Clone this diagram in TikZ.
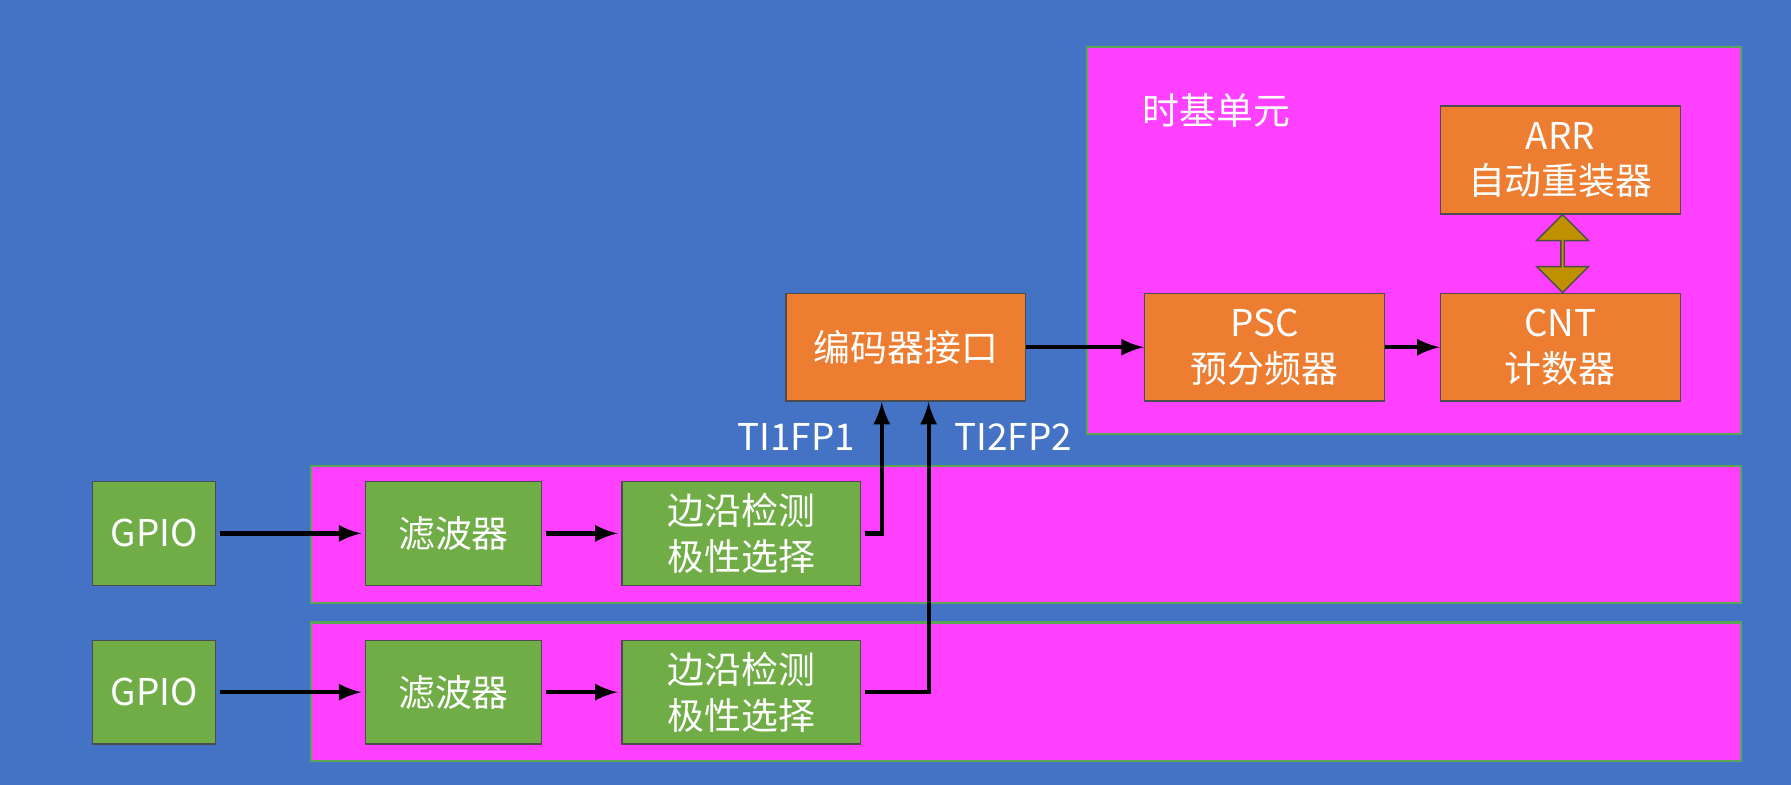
\documentclass[tikz,border=0pt]{standalone}
\usepackage{fontspec}
\setmainfont{Noto Sans CJK SC}
\usetikzlibrary{shapes.arrows}
\definecolor{bgblue}{HTML}{4472C4}
\definecolor{pink}{HTML}{FF40FF}
\definecolor{boxorange}{HTML}{ED7D31}
\definecolor{boxgreen}{HTML}{70AD47}
\definecolor{gold}{HTML}{BF9000}
\tikzset{
  panel/.style={draw=gray!70!green, fill=pink, line width=0.6pt},
  blk/.style={draw=gray!60!black, text=white, align=center, font=\fontsize{10.5}{13}\selectfont, line width=0.4pt},
  orange/.style={blk, fill=boxorange},
  green/.style={blk, fill=boxgreen},
  flow/.style={->, >=latex, line width=1.2pt, black}
}
\begin{document}
\begin{tikzpicture}[x=0.011422cm, y=-0.011422cm]
\fill[bgblue] (0,0) rectangle (1568,687);
\useasboundingbox (0,0) rectangle (1568,687);

\draw[panel] (952,41) rectangle (1524,380);
\draw[panel] (272,408) rectangle (1524,528);
\draw[panel] (272,545) rectangle (1524,666);
\node[text=white, font=\fontsize{10.5}{13}\selectfont] (tb) at (1065,97) {时基单元};

\node[orange, minimum width=2.4cm, minimum height=1.08cm] (arr) at (1366,140) {ARR\\自动重装器};
\node[orange, minimum width=2.4cm, minimum height=1.08cm] (cnt) at (1366,304) {CNT\\计数器};
\node[orange, minimum width=2.4cm, minimum height=1.08cm] (psc) at (1107,304) {PSC\\预分频器};
\node[orange, minimum width=2.4cm, minimum height=1.08cm] (enc) at (793,304) {编码器接口};

\node[green, minimum width=1.23cm, minimum height=1.04cm] (gpio1) at (135,467) {GPIO};
\node[green, minimum width=1.76cm, minimum height=1.04cm] (flt1) at (397,467) {滤波器};
\node[green, minimum width=2.39cm, minimum height=1.04cm] (edge1) at (649,467) {边沿检测\\极性选择};
\node[green, minimum width=1.23cm, minimum height=1.04cm] (gpio2) at (135,606) {GPIO};
\node[green, minimum width=1.76cm, minimum height=1.04cm] (flt2) at (397,606) {滤波器};
\node[green, minimum width=2.39cm, minimum height=1.04cm] (edge2) at (649,606) {边沿检测\\极性选择};

\node[text=white, font=\fontsize{10.5}{13}\selectfont] (ti1) at (697,383) {TI1FP1};
\node[text=white, font=\fontsize{10.5}{13}\selectfont] (ti2) at (887,383) {TI2FP2};

\draw[flow] ([xshift=1pt]gpio1.east) -- ([xshift=-1pt]flt1.west);
\draw[flow] ([xshift=1pt]flt1.east) -- ([xshift=-1pt]edge1.west);
\draw[flow] ([xshift=1pt]gpio2.east) -- ([xshift=-1pt]flt2.west);
\draw[flow] ([xshift=1pt]flt2.east) -- ([xshift=-1pt]edge2.west);
\draw[flow] ([xshift=1pt]edge1.east) -| (enc.south -| 772,0);
\draw[flow] ([xshift=1pt]edge2.east) -| (enc.south -| 813,0);
\draw[flow] (enc.east) -- (psc.west);
\draw[flow] (psc.east) -- (cnt.west);

\node[double arrow, draw=gray!60!black, fill=gold, rotate=90, minimum height=0.78cm,
  minimum width=0.52cm, double arrow head extend=0.1cm, inner sep=0pt] (dbl) at (1368,222) {};
\end{tikzpicture}
\end{document}
